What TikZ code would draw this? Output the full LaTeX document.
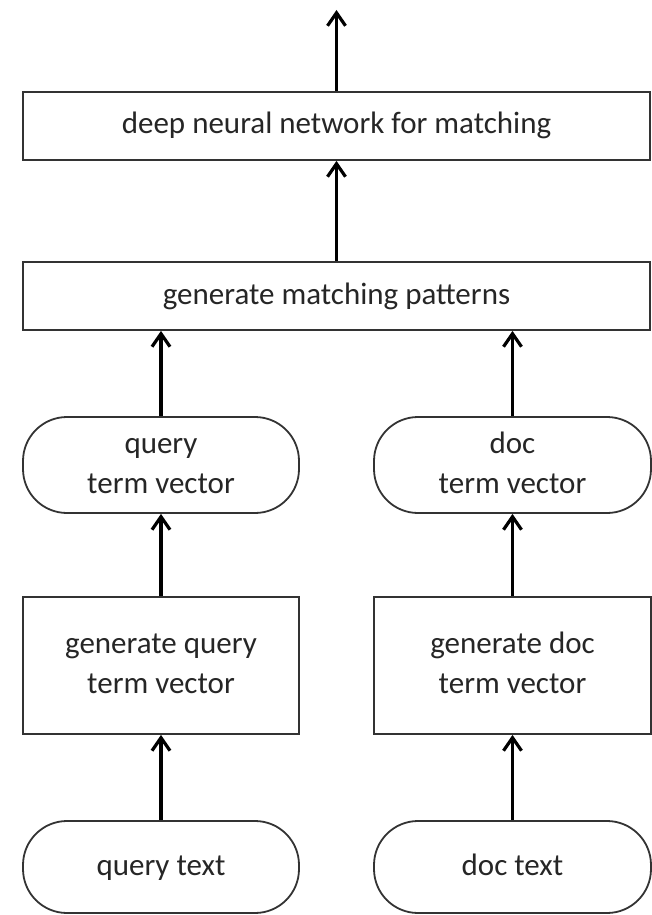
\documentclass[tikz,border=0pt]{standalone}
\usepackage{fontspec}
\setmainfont{Carlito}
\usetikzlibrary{arrows.meta}

\begin{document}
\begin{tikzpicture}[x=0.5pt,y=-0.5pt,>={Straight Barb[length=6.5pt,width=9pt]},
		box/.style={draw=black!80,line width=0.9pt,text=black!85,align=center,inner sep=0pt,
			font=\fontsize{15.5}{20}\selectfont},
		pill/.style={box,rounded corners=22pt},
		flow/.style={->,line width=1.6pt}]
		\useasboundingbox (0,0) rectangle (652,915);

		\node[box,minimum width=313.5pt,minimum height=34pt] (dnn) at (336.5,126) {\strut deep neural network for matching};
		\node[box,minimum width=313.5pt,minimum height=34pt] (gmp) at (336.5,296) {\strut generate matching patterns};
		\coordinate (out) at (336.5,10);

		\node[pill,minimum width=138pt,minimum height=48pt] (qvec) at (161,465) {\strut query\\\strut term vector};
		\node[pill,minimum width=138.5pt,minimum height=48pt] (dvec) at (512.5,465) {\strut doc\\\strut term vector};
		\node[box,minimum width=138pt,minimum height=68.5pt] (qgen) at (161,665.5) {\strut generate query\\\strut term vector};
		\node[box,minimum width=138.5pt,minimum height=68.5pt] (dgen) at (512.5,665.5) {\strut generate doc\\\strut term vector};
		\node[pill,minimum width=138pt,minimum height=46pt] (qtext) at (161,867) {\strut query text};
		\node[pill,minimum width=138.5pt,minimum height=46pt] (dtext) at (512.5,867) {\strut doc text};

		\draw[flow] (dnn) -- (out);
		\draw[flow] (gmp) -- (dnn);
		\draw[flow] (qvec) -- (qvec.north |- gmp.south);
		\draw[flow] (dvec) -- (dvec.north |- gmp.south);
		\draw[flow] (qgen) -- (qvec);
		\draw[flow] (dgen) -- (dvec);
		\draw[flow] (qtext) -- (qgen);
		\draw[flow] (dtext) -- (dgen);
	\end{tikzpicture}
\end{document}
